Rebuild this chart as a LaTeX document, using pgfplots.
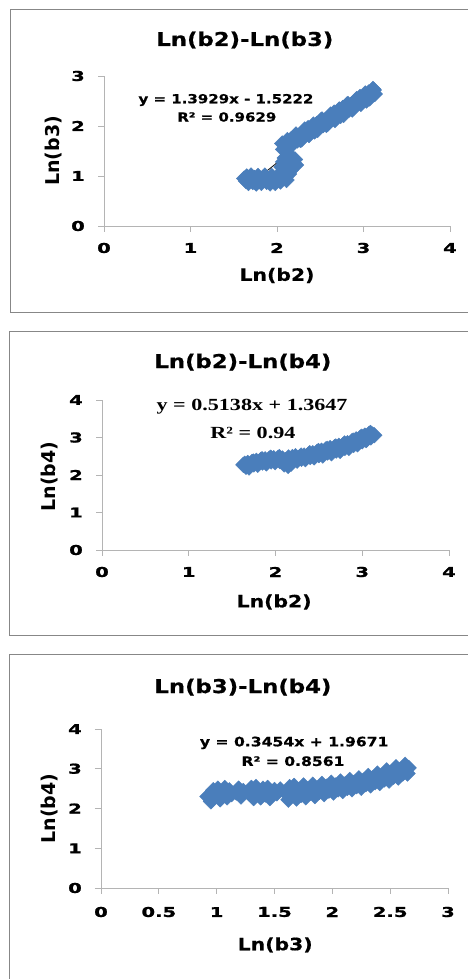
\documentclass[border=0pt]{standalone}
\usepackage{fontspec}
\usepackage{pgfplots}
\pgfplotsset{compat=1.18}
\setmainfont{DejaVu Sans}
\newfontfamily\widefont[FakeStretch=1.2, FakeBold=0.6]{DejaVu Sans}
\newfontfamily\tickfont[FakeStretch=1.45, FakeBold=1.2]{DejaVu Sans Bold}
\newfontfamily\serifwide[FakeStretch=1.3]{Liberation Serif}

\definecolor{markblue}{RGB}{74,126,187}
\definecolor{axgray}{RGB}{180,180,180}
\definecolor{boxgray}{RGB}{135,135,135}

\pgfplotsset{
  excelpanel/.style={
    scale only axis,
    anchor=south west,
    axis lines=left,
    axis line style={-, axgray, line width=0.8pt},
    every tick/.style={axgray, line width=0.8pt},
    tick align=outside,
    tick pos=left,
    major tick length=6pt,
    xmin=0, ymin=0,
    tick label style={font=\tickfont\fontsize{13.5}{13.5}\selectfont},
    xticklabel style={anchor=center, yshift=-16pt},
    yticklabel style={anchor=center, xshift=-20pt},
    title style={font=\widefont\bfseries\fontsize{19}{19}\selectfont, anchor=center},
    xlabel style={font=\widefont\bfseries\fontsize{17}{17}\selectfont, anchor=center},
    ylabel style={font=\bfseries\fontsize{19}{19}\selectfont, anchor=center},
    clip=false,
  },
  cloud/.style={only marks, mark=square*, mark size=5.5pt,
    mark options={rotate=45, fill=markblue, draw=markblue}},
  trend/.style={black, line width=0.8pt, no marks},
}

\pgfplotstableread{
x y
1.62 0.95
1.64 0.90
1.65 0.99
1.67 0.86
1.69 0.95
1.70 1.01
1.72 0.88
1.74 0.96
1.76 0.85
1.78 1.00
1.80 0.91
1.82 0.86
1.84 0.97
1.86 1.01
1.88 0.88
1.90 0.94
1.92 0.85
1.94 1.00
1.96 0.90
1.98 0.86
2.00 0.96
2.02 1.02
2.04 0.89
2.06 0.95
2.08 1.05
2.10 0.98
2.12 1.12
2.14 1.04
2.11 0.92
2.05 1.18
2.07 1.28
2.09 1.36
2.11 1.22
2.13 1.32
2.15 1.20
2.17 1.38
2.19 1.27
2.21 1.33
2.22 1.22
2.16 1.12
2.06 1.65
2.085 1.55
2.11 1.65
2.135 1.58
2.16 1.73
2.185 1.69
2.21 1.80
2.235 1.71
2.26 1.81
2.285 1.73
2.31 1.89
2.335 1.84
2.36 1.96
2.385 1.87
2.41 1.96
2.435 1.89
2.46 2.04
2.485 2.00
2.51 2.12
2.535 2.02
2.56 2.12
2.585 2.04
2.61 2.20
2.635 2.16
2.66 2.27
2.685 2.18
2.71 2.27
2.735 2.20
2.76 2.36
2.785 2.31
2.81 2.43
2.835 2.33
2.86 2.43
2.885 2.36
2.91 2.51
2.935 2.47
2.96 2.58
2.985 2.49
3.01 2.59
3.035 2.51
3.06 2.67
3.085 2.62
3.11 2.74
3.13 2.64
2.07 1.53
2.12 1.72
2.17 1.62
2.22 1.83
2.27 1.72
2.32 1.93
2.37 1.82
2.42 2.03
2.47 1.92
2.52 2.13
2.57 2.02
2.62 2.23
2.67 2.12
2.72 2.33
2.77 2.22
2.82 2.44
2.87 2.33
2.92 2.54
2.97 2.44
3.02 2.65
3.07 2.55
3.12 2.72
}\bbtwothree

\pgfplotstableread{
x y
1.63 2.27
1.66 2.22
1.68 2.32
1.70 2.25
1.73 2.35
1.75 2.28
1.78 2.38
1.80 2.30
1.83 2.40
1.85 2.33
1.88 2.42
1.90 2.35
1.93 2.44
1.95 2.36
1.98 2.45
2.00 2.38
2.03 2.46
2.05 2.37
2.08 2.44
2.10 2.28
2.12 2.40
2.15 2.47
2.18 2.30
2.20 2.42
2.23 2.50
2.25 2.38
2.28 2.48
2.30 2.43
2.33 2.52
2.35 2.45
2.38 2.55
2.40 2.48
2.43 2.58
2.45 2.50
2.48 2.62
2.50 2.53
2.53 2.65
2.55 2.56
2.58 2.68
2.60 2.60
2.63 2.72
2.65 2.62
2.68 2.74
2.70 2.65
2.73 2.78
2.75 2.68
2.78 2.80
2.80 2.72
2.83 2.85
2.85 2.75
2.88 2.90
2.90 2.80
2.93 2.95
2.95 2.85
2.98 3.00
3.00 2.90
3.03 3.05
3.05 2.95
3.08 3.10
3.10 3.00
3.12 3.08
1.645 2.30
1.695 2.20
1.745 2.36
1.795 2.27
1.845 2.42
1.895 2.31
1.945 2.46
1.995 2.34
2.045 2.48
2.095 2.36
2.145 2.24
2.195 2.48
2.245 2.44
2.295 2.52
2.345 2.42
2.395 2.58
2.445 2.47
2.495 2.64
2.545 2.52
2.595 2.70
2.645 2.58
2.695 2.76
2.745 2.64
2.795 2.84
2.845 2.72
2.895 2.92
2.945 2.82
2.995 3.02
3.045 2.93
3.095 3.12
3.14 3.06
}\bbtwofour

\pgfplotstableread{
x y
0.92 2.30
0.95 2.18
0.97 2.46
0.99 2.32
1.01 2.50
1.03 2.23
1.05 2.42
1.07 2.52
1.09 2.28
1.11 2.46
1.13 2.36
1.17 2.40
1.19 2.50
1.21 2.30
1.23 2.44
1.28 2.38
1.30 2.52
1.32 2.26
1.34 2.54
1.36 2.40
1.38 2.28
1.40 2.50
1.42 2.35
1.44 2.52
1.46 2.26
1.48 2.42
1.50 2.47
1.52 2.38
1.55 2.48
1.60 2.38
1.62 2.22
1.63 2.54
1.65 2.40
1.67 2.57
1.69 2.25
1.71 2.46
1.73 2.34
1.75 2.58
1.77 2.28
1.79 2.48
1.81 2.40
1.83 2.60
1.85 2.31
1.87 2.50
1.89 2.42
1.91 2.62
1.93 2.36
1.95 2.55
1.97 2.45
1.99 2.65
2.01 2.40
2.03 2.58
2.05 2.48
2.07 2.68
2.09 2.44
2.11 2.61
2.13 2.52
2.15 2.72
2.17 2.48
2.19 2.65
2.21 2.56
2.23 2.76
2.25 2.52
2.27 2.70
2.29 2.61
2.31 2.82
2.33 2.58
2.35 2.76
2.37 2.66
2.39 2.88
2.41 2.64
2.43 2.83
2.45 2.73
2.47 2.96
2.49 2.70
2.51 2.89
2.53 2.80
2.55 3.04
2.57 2.78
2.59 2.97
2.61 2.88
2.63 3.10
2.65 2.88
2.66 3.02
}\bbthreefour

\begin{document}
\begin{tikzpicture}
\useasboundingbox (0pt,0pt) rectangle (468pt,979pt);
\fill[white] (0pt,0pt) rectangle (468pt,979pt);

% panel frames
\draw[boxgray, line width=1pt] (10pt,666pt) rectangle (490pt,969pt);
\draw[boxgray, line width=1pt] (9pt,343pt) rectangle (490pt,647pt);
\draw[boxgray, line width=1pt] (9pt,-10pt) rectangle (490pt,324pt);

% Ln(b2)-Ln(b3)
\begin{axis}[excelpanel,
    at={(104pt,753pt)}, width=346pt, height=150pt,
    xmax=4, ymax=3,
    xtick={0,1,2,3,4}, xticklabels={0,1,2,3,4},
    ytick={0,1,2,3}, yticklabels={0,1,2,3},
    title={Ln(b2)-Ln(b3)},
    title style={at={(axis description cs:0.407,1.20)}},
    xlabel={Ln(b2)}, xlabel style={at={(axis description cs:0.5,-0.33)}},
    ylabel={Ln(b3)}, ylabel style={at={(axis description cs:-0.147,0.5)}},
  ]
  \addplot[cloud] table {\bbtwothree};
  \addplot[trend] coordinates {(1.68,0.818) (3.10,2.796)};
  \node[font=\widefont\bfseries\fontsize{12.5}{12.5}\selectfont] at (axis cs:1.41,2.52) {y = 1.3929x - 1.5222};
  \node[font=\widefont\bfseries\fontsize{12.5}{12.5}\selectfont] at (axis cs:1.42,2.18) {R² = 0.9629};
\end{axis}

% Ln(b2)-Ln(b4)
\begin{axis}[excelpanel,
    at={(102pt,429pt)}, width=347pt, height=150pt,
    xmax=4, ymax=4,
    xtick={0,1,2,3,4}, xticklabels={0,1,2,3,4},
    ytick={0,1,2,3,4}, yticklabels={0,1,2,3,4},
    title={Ln(b2)-Ln(b4)},
    title style={at={(axis description cs:0.406,1.213)}},
    xlabel={Ln(b2)}, xlabel style={at={(axis description cs:0.496,-0.347)}},
    ylabel={Ln(b4)}, ylabel style={at={(axis description cs:-0.15,0.49)}},
  ]
  \addplot[cloud] table {\bbtwofour};
  \addplot[trend] coordinates {(1.68,2.228) (3.10,2.957)};
  \node[font=\serifwide\bfseries\fontsize{17}{17}\selectfont] at (axis cs:1.73,3.81) {y = 0.5138x + 1.3647};
  \node[font=\serifwide\bfseries\fontsize{17}{17}\selectfont] at (axis cs:1.74,3.12) {R² = 0.94};
\end{axis}

% Ln(b3)-Ln(b4)
\begin{axis}[excelpanel,
    at={(101pt,91pt)}, width=347pt, height=159pt,
    xmax=3, ymax=4,
    xtick={0,0.5,1,1.5,2,2.5,3}, xticklabels={0,0.5,1,1.5,2,2.5,3},
    ytick={0,1,2,3,4}, yticklabels={0,1,2,3,4},
    xticklabel style={yshift=-2pt},
    title={Ln(b3)-Ln(b4)},
    title style={at={(axis description cs:0.409,1.226)}},
    xlabel={Ln(b3)}, xlabel style={at={(axis description cs:0.502,-0.358)}},
    ylabel={Ln(b4)}, ylabel style={at={(axis description cs:-0.147,0.5)}},
  ]
  \addplot[cloud] table {\bbthreefour};
  \addplot[trend] coordinates {(0.92,2.285) (2.65,2.882)};
  \node[font=\widefont\bfseries\fontsize{13}{13}\selectfont] at (axis cs:1.67,3.65) {y = 0.3454x + 1.9671};
  \node[font=\widefont\bfseries\fontsize{13}{13}\selectfont] at (axis cs:1.66,3.19) {R² = 0.8561};
\end{axis}
\end{tikzpicture}
\end{document}
